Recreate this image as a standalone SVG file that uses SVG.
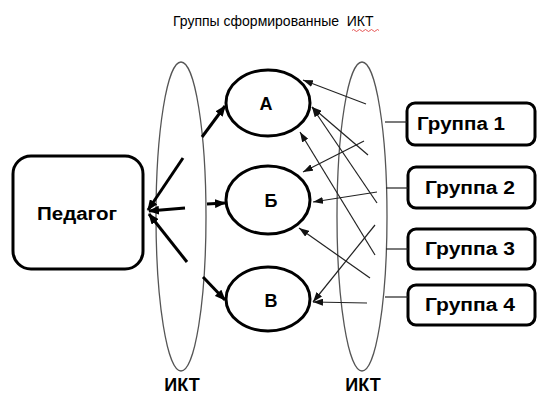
<svg xmlns="http://www.w3.org/2000/svg" width="537" height="394" viewBox="0 0 537 394">
<defs>
<marker id="big" markerWidth="11" markerHeight="9" refX="10" refY="4.5" orient="auto" markerUnits="userSpaceOnUse"><path d="M0,0 L11,4.5 L0,9 z" fill="#000"/></marker>
<marker id="small" markerWidth="10" markerHeight="7" refX="10" refY="3.5" orient="auto" markerUnits="userSpaceOnUse"><path d="M0,0 L10,3.5 L0,7 z" fill="#111"/></marker>
<style>
.t{font-family:"Liberation Sans",Arial,sans-serif;fill:#000}
.b{font-weight:bold;font-size:18px;text-anchor:middle}
.box{fill:#fff;stroke:#000;stroke-width:3}
.oval{fill:none;stroke:#555;stroke-width:1.3}
.thick{stroke:#000;stroke-width:3;fill:none}
.thin{stroke:#222;stroke-width:1.2;fill:none}
.tick{stroke:#222;stroke-width:1.2}
</style>
</defs>
<rect width="537" height="394" fill="#fff"/>
<text class="t" x="173" y="26" font-size="14" xml:space="preserve">Группы сформированные  ИКТ</text>
<path d="M352,30.5 q1.5,-2 3,0 t3,0 t3,0 t3,0 t3,0 t3,0 t3,0 t3,0 t3,0" fill="none" stroke="#e03030" stroke-width="0.8"/>

<g id="ikt-left"><ellipse class="oval" cx="181" cy="216.5" rx="25" ry="154.5"/><text class="t b" x="182" y="391">ИКТ</text></g>
<g id="ikt-right"><ellipse class="oval" cx="362" cy="216.5" rx="25" ry="154.5"/><text class="t b" x="363" y="391">ИКТ</text></g>

<g id="pedagog"><rect class="box" x="13" y="156" width="130" height="113" rx="18"/><text class="t b" x="77" y="220" textLength="80" lengthAdjust="spacingAndGlyphs">Педагог</text></g>

<g id="A"><ellipse class="box" cx="268" cy="103" rx="42" ry="33"/><text class="t b" x="266" y="110">А</text></g>
<g id="B"><ellipse class="box" cx="268" cy="200" rx="42" ry="34"/><text class="t b" x="271" y="207">Б</text></g>
<g id="V"><ellipse class="box" cx="268" cy="299" rx="42" ry="32"/><text class="t b" x="271" y="307">В</text></g>

<g id="g1"><rect class="box" x="407" y="103" width="128" height="42" rx="8"/><text class="t b" x="461" y="130" textLength="88" lengthAdjust="spacingAndGlyphs">Группа 1</text></g>
<g id="g2"><rect class="box" x="408" y="167" width="127" height="41" rx="8"/><text class="t b" x="470" y="194" textLength="90" lengthAdjust="spacingAndGlyphs">Группа 2</text></g>
<g id="g3"><rect class="box" x="408" y="229" width="127" height="40" rx="8"/><text class="t b" x="470" y="255" textLength="90" lengthAdjust="spacingAndGlyphs">Группа 3</text></g>
<g id="g4"><rect class="box" x="408" y="285" width="127" height="40" rx="8"/><text class="t b" x="470" y="311" textLength="90" lengthAdjust="spacingAndGlyphs">Группа 4</text></g>

<g id="connectors">
<line class="thick" x1="183" y1="158" x2="148" y2="210" marker-end="url(#big)"/>
<line class="thick" x1="185" y1="208" x2="149" y2="211" marker-end="url(#big)"/>
<line class="thick" x1="187" y1="262" x2="149" y2="214" marker-end="url(#big)"/>
<line class="thick" x1="202" y1="137" x2="225" y2="106" marker-end="url(#big)"/>
<line class="thick" x1="207" y1="204" x2="225" y2="203" marker-end="url(#big)"/>
<line class="thick" x1="203" y1="277" x2="225" y2="300" marker-end="url(#big)"/>

<line class="thin" x1="366" y1="104" x2="303" y2="80" marker-end="url(#small)"/>
<line class="thin" x1="368" y1="155" x2="312" y2="107" marker-end="url(#small)"/>
<line class="thin" x1="377" y1="203" x2="312" y2="107" marker-end="url(#small)"/>
<line class="thin" x1="375" y1="255" x2="300" y2="132" marker-end="url(#small)"/>
<line class="thin" x1="364" y1="141" x2="303" y2="172" marker-end="url(#small)"/>
<line class="thin" x1="377" y1="192" x2="313" y2="202" marker-end="url(#small)"/>
<line class="thin" x1="370" y1="278" x2="299" y2="228" marker-end="url(#small)"/>
<line class="thin" x1="375" y1="225" x2="313" y2="302" marker-end="url(#small)"/>
<line class="thin" x1="367" y1="303" x2="313" y2="302" marker-end="url(#small)"/>

<line class="tick" x1="385" y1="122" x2="407" y2="122"/>
<line class="tick" x1="386" y1="188" x2="408" y2="188"/>
<line class="tick" x1="386" y1="249" x2="408" y2="249"/>
<line class="tick" x1="385" y1="297" x2="408" y2="297"/>
</g>
</svg>
